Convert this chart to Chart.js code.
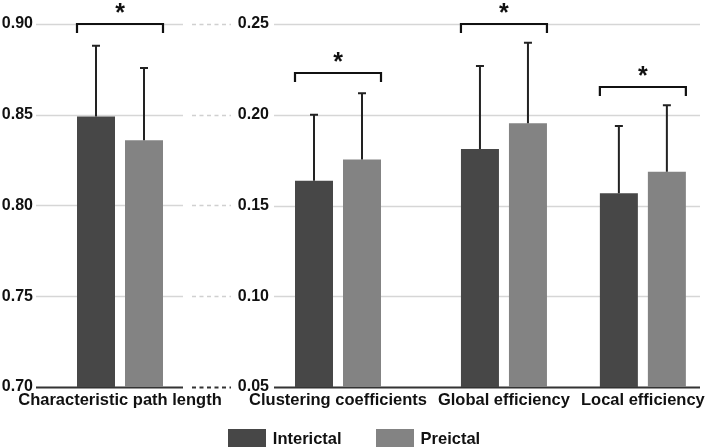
<!DOCTYPE html>
<html>
<head>
<meta charset="utf-8">
<script src="https://cdn.jsdelivr.net/npm/chart.js@4.4.0/dist/chart.umd.min.js"></script>
<style>
  html, body { margin: 0; padding: 0; background: #fff; overflow: hidden; }
  #wrap { position: relative; width: 708px; height: 447px; }
  #wrap canvas { position: absolute; top: 0; left: 0; }
  #legend {
    position: absolute; left: 0; top: 429px; width: 708px;
    display: flex; justify-content: center;
    font: bold 16.5px 'Liberation Sans', Arial, sans-serif; color: #111; line-height: 18px;
  }
  .item { display: flex; align-items: center; }
  .item + .item { margin-left: 34px; }
  .swatch { width: 38px; height: 18px; margin-right: 7px; }
</style>
</head>
<body>
<div id="wrap">
  <canvas id="net" width="708" height="447"></canvas>
  <canvas id="path" width="235" height="447"></canvas>
  <div id="legend"></div>
</div>
<script>
// left panel: characteristic path length
const pathCategories = ['Characteristic path length']
const pathInterictal = [0.849]
const pathInterictalSd = [0.039]
const pathPreictal = [0.836]
const pathPreictalSd = [0.0397]
const pathBrackets = [0.90]
const pathTicks = [0.70, 0.75, 0.80, 0.85, 0.90]

// right panel: other network measures
const netCategories = ['Clustering coefficients', 'Global efficiency', 'Local efficiency']
const netInterictal = [0.1636, 0.1811, 0.1567]
const netInterictalSd = [0.0364, 0.0457, 0.0371]
const netPreictal = [0.1754, 0.1953, 0.1686]
const netPreictalSd = [0.0364, 0.0444, 0.0367]
const netBrackets = [0.223, 0.25, 0.2155]
const netTicks = [0.05, 0.10, 0.15, 0.20, 0.25]

const seriesNames = ['Interictal', 'Preictal']
const seriesColors = ['#474747', '#838383']

const FONT = "'Liberation Sans', Arial, Helvetica, sans-serif"
const INK = '#111'

// groups are spaced by the width of their labels, like the original figure
function labelCenters(labels, first) {
  const ctx = document.createElement('canvas').getContext('2d')
  ctx.font = 'bold 16.5px ' + FONT
  const w = labels.map((l) => ctx.measureText(l).width)
  const out = [first]
  for (let i = 1; i < labels.length; i++) {
    out.push(out[i - 1] + (w[i - 1] + w[i]) / 2 + 11)
  }
  return out
}

function makePanel(canvas, p) {
  const centers = labelCenters(p.categories, p.firstCenter)
  let minGap = p.areaW
  for (let i = 1; i < centers.length; i++) minGap = Math.min(minGap, centers[i] - centers[i - 1])
  const values = [p.interictal, p.preictal]
  const sds = [p.interictalSd, p.preictalSd]

  const statsPlugin = {
    id: 'stats',
    beforeDatasetsDraw(chart) {
      const { ctx, chartArea: a, scales: { y } } = chart
      ctx.save()
      y.ticks.forEach((t) => {
        const py = Math.round(y.getPixelForValue(t.value)) + 0.5
        const base = t.value === y.min
        ctx.strokeStyle = base ? '#333' : '#d6d6d6'
        ctx.lineWidth = base ? 2 : 1.5
        ctx.setLineDash([])
        ctx.beginPath()
        ctx.moveTo(a.left, py)
        ctx.lineTo(a.right, py)
        ctx.stroke()
        if (p.gapDashes) {
          ctx.strokeStyle = base ? '#333' : '#d0d0d0'
          ctx.setLineDash([4, 3.5])
          ctx.beginPath()
          ctx.moveTo(a.right + 9, py)
          ctx.lineTo(a.right + 48, py)
          ctx.stroke()
        }
      })
      ctx.restore()
    },
    afterDatasetsDraw(chart) {
      const { ctx, scales: { y } } = chart
      ctx.save()
      ctx.setLineDash([])
      // error bars, upper side only
      ctx.strokeStyle = '#222'
      ctx.lineWidth = 2
      for (let d = 0; d < 2; d++) {
        chart.getDatasetMeta(d).data.forEach((bar, i) => {
          const top = y.getPixelForValue(values[d][i] + sds[d][i])
          ctx.beginPath()
          ctx.moveTo(bar.x, bar.y)
          ctx.lineTo(bar.x, top)
          ctx.moveTo(bar.x - 4, top)
          ctx.lineTo(bar.x + 4, top)
          ctx.stroke()
        })
      }
      // significance brackets
      const m0 = chart.getDatasetMeta(0).data
      const m1 = chart.getDatasetMeta(1).data
      ctx.strokeStyle = INK
      ctx.fillStyle = INK
      ctx.lineWidth = 2.2
      ctx.font = 'bold 25px ' + FONT
      ctx.textAlign = 'center'
      ctx.textBaseline = 'alphabetic'
      p.brackets.forEach((v, i) => {
        const x0 = m0[i].x - m0[i].width / 2
        const x1 = m1[i].x + m1[i].width / 2
        const py = Math.round(y.getPixelForValue(v))
        ctx.beginPath()
        ctx.moveTo(x0, py + 9)
        ctx.lineTo(x0, py)
        ctx.lineTo(x1, py)
        ctx.lineTo(x1, py + 9)
        ctx.stroke()
        ctx.fillText('*', (x0 + x1) / 2, py - 3)
      })
      ctx.restore()
    },
  }

  return new Chart(canvas.getContext('2d'), {
    type: 'bar',
    data: {
      datasets: seriesNames.map((name, d) => ({
        label: name,
        data: centers.map((c, i) => ({ x: c, y: values[d][i] })),
        backgroundColor: seriesColors[d],
        barPercentage: 1,
        categoryPercentage: 96 / minGap,
        maxBarThickness: 38,
      })),
    },
    options: {
      responsive: false,
      animation: false,
      devicePixelRatio: 1,
      layout: { padding: p.padding },
      plugins: { legend: { display: false }, tooltip: { enabled: false } },
      scales: {
        x: {
          type: 'linear',
          offset: false,
          min: 0,
          max: p.areaW,
          grid: { display: false, drawTicks: false, offset: false },
          border: { display: false },
          afterBuildTicks: (s) => { s.ticks = centers.map((v) => ({ value: v })) },
          afterFit: (s) => { s.height = 30; s.paddingLeft = 0; s.paddingRight = 0 },
          ticks: {
            autoSkip: false,
            maxRotation: 0,
            minRotation: 0,
            padding: 4,
            color: INK,
            font: { family: FONT, size: 16.5, weight: 'bold' },
            callback: (v, i) => p.categories[i],
          },
        },
        y: {
          min: p.ticks[0],
          max: p.ticks[p.ticks.length - 1],
          grid: { display: false, drawTicks: false },
          border: { display: false },
          afterBuildTicks: (s) => { s.ticks = p.ticks.map((v) => ({ value: v })) },
          afterFit: (s) => { s.width = p.yAxisW },
          ticks: {
            padding: p.tickPad,
            color: INK,
            font: { family: FONT, size: 16, weight: 'bold' },
            callback: (v) => v.toFixed(2),
          },
        },
      },
    },
    plugins: [statsPlugin],
  })
}

const netChart = makePanel(document.getElementById('net'), {
  categories: netCategories,
  interictal: netInterictal,
  interictalSd: netInterictalSd,
  preictal: netPreictal,
  preictalSd: netPreictalSd,
  brackets: netBrackets,
  ticks: netTicks,
  padding: { left: 234, right: 8, top: 24, bottom: 30 },
  yAxisW: 40,
  areaW: 426,
  firstCenter: 64,
  tickPad: 5,
  gapDashes: false,
})

makePanel(document.getElementById('path'), {
  categories: pathCategories,
  interictal: pathInterictal,
  interictalSd: pathInterictalSd,
  preictal: pathPreictal,
  preictalSd: pathPreictalSd,
  brackets: pathBrackets,
  ticks: pathTicks,
  padding: { left: 0, right: 52, top: 24, bottom: 30 },
  yAxisW: 36,
  areaW: 147,
  firstCenter: 84,
  tickPad: 3,
  gapDashes: true,
})

// legend built from the datasets of the right panel
const legend = document.getElementById('legend')
netChart.data.datasets.forEach((ds) => {
  const item = document.createElement('div')
  item.className = 'item'
  const sw = document.createElement('span')
  sw.className = 'swatch'
  sw.style.background = ds.backgroundColor
  const txt = document.createElement('span')
  txt.textContent = ds.label
  item.appendChild(sw)
  item.appendChild(txt)
  legend.appendChild(item)
})
</script>
</body>
</html>
